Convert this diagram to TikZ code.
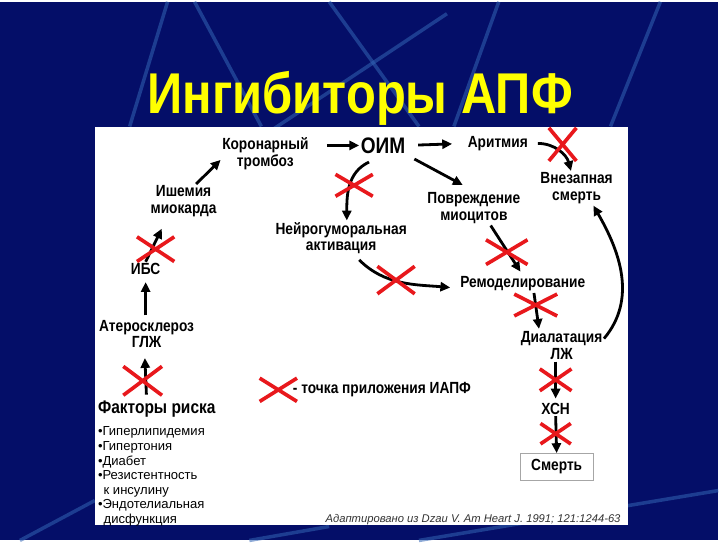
\documentclass[tikz,border=0pt]{standalone}
\usepackage{fontspec}
\setmainfont{Liberation Sans}
\newfontfamily\condfont[FakeStretch=0.85]{Liberation Sans}
\usepackage{xcolor}
\usepackage{tikz}
\usetikzlibrary{arrows.meta,shapes.misc,positioning}

\definecolor{slidebg}{RGB}{4,14,104}
\definecolor{streak}{RGB}{50,100,180}
\definecolor{xred}{RGB}{232,24,28}
\definecolor{titleyellow}{RGB}{255,255,0}

\tikzset{
  lbl/.style={font=\condfont\bfseries\fontsize{11.5}{12}\selectfont, align=center, inner sep=1pt},
  arr/.style={-{Triangle[length=7pt,width=6.5pt]}, line width=2pt},
  iapf/.style={cross out, draw=xred, line width=2.6pt, inner sep=0pt,
    minimum width=24pt, minimum height=14pt},
}

\begin{document}
\begin{tikzpicture}[x=0.025cm, y=-0.025cm]
		  % slide background
		  \path[fill=slidebg] (0,0) rectangle (720,540);
		  \begin{scope}[streak, line width=2.5pt, opacity=0.55]
		    \draw (195,0) -- (262,125);
		    \draw (330,0) -- (420,125);
		    \draw (448,12) -- (150,210);
		    \draw (500,0) -- (455,125);
		    \draw (662,0) -- (612,125);
		    \draw (168,0) -- (130,125);
		    \draw (20,540) -- (95,500);
		    \draw (250,540) -- (330,526);
		    \draw (420,540) -- (720,490);
		  \end{scope}
		  \node[font=\condfont\bfseries\fontsize{41}{43}\selectfont, text=titleyellow] (title) at (361,97) {Ингибиторы АПФ} ; %
		  \path[fill=white] (95,126) rectangle (630,525);
		
		  % chain nodes
		  \node[lbl] (koron) at (266,152) {Коронарный\\тромбоз} ; %
		  \node[lbl, font=\condfont\bfseries\fontsize{16}{17}\selectfont] (oim) at (384,144) {ОИМ} ; %
		  \node[lbl] (arit) at (499,142) {Аритмия} ; %
		  \node[lbl] (vnez) at (578,187) {Внезапная\\смерть} ; %
		  \node[lbl] (isch) at (184,200) {Ишемия\\миокарда} ; %
		  \node[lbl] (povr) at (475,207) {Повреждение\\миоцитов} ; %
		  \node[lbl] (neuro) at (342,237) {Нейрогуморальная\\активация} ; %
		  \node[lbl] (ibs) at (146,268) {ИБС} ; %
		  \node[lbl] (remod) at (524,283) {Ремоделирование} ; %
		  \node[lbl] (ater) at (147,333) {Атеросклероз\\ГЛЖ} ; %
		  \node[lbl] (dial) at (563,345) {Диалатация\\ЛЖ} ; %
		  \node[lbl] (xsn) at (557,408) {ХСН} ; %
		  \node[lbl, draw=black!35, minimum width=52pt, minimum height=19pt] (smert) at (558,466) {Смерть} ; %
		  \node[lbl, font=\condfont\bfseries\fontsize{13}{14}\selectfont, anchor=west, inner sep=0pt] (fakt) at (98,408) {Факторы риска} ; %
		  \node[font=\fontsize{9.3}{10.4}\selectfont, align=left, anchor=north west, inner sep=0pt] (risks) at (98,426)
		    {•Гиперлипидемия\\•Гипертония\\•Диабет\\•Резистентность\\\hspace*{4pt}к инсулину\\•Эндотелиальная\\\hspace*{4pt}дисфункция} ; %
		  \node[iapf] (xleg) at (279,389) {} ; %
		  \node[lbl, anchor=west] (legend) at (292,389) {- точка приложения ИАПФ} ; %
		  \node[font=\itshape\fontsize{8}{9}\selectfont, anchor=east, text=black!80] (cite) at (627,519)
		    {Адаптировано из Dzau V. Am Heart J. 1991; 121:1244-63} ; %
		
		  % connectors
		  \draw[arr, shorten <=12pt] (koron.east |- oim.west) -- (oim.west);
		  \draw[arr, shorten <=8pt, shorten >=10pt] (oim.east) -- (arit.west);
		  \draw[arr, shorten <=6pt, shorten >=9pt] (oim.south east) -- (povr.north);
		  \draw[arr] ([xshift=9pt]isch.north) -- ([yshift=8pt]koron.south west);
		  \draw[arr, shorten >=8pt] (ibs.north) -- ([xshift=-12pt]isch.south);
		  \draw[arr, shorten <=2pt, shorten >=4pt] (ibs.south |- ater.north) -- (ibs.south);
		  \draw[arr, shorten <=4pt, shorten >=6pt] (ater.south |- fakt.north) -- ([xshift=-1.5pt]ater.south);
		  \draw[arr] ([xshift=6pt]arit.east) to[out=0,in=105] ([xshift=-4pt]vnez.north);
		  \draw[arr] ([xshift=-10pt,yshift=-5pt]oim.south) to[out=205,in=90] ([xshift=4pt]neuro.north);
		  \draw[arr, shorten <=4pt, shorten >=6pt] ([xshift=10pt]neuro.south) to[out=-45,in=175] ([yshift=-3pt]remod.west);
		  \draw[arr, shorten >=3pt] ([xshift=12pt]povr.south) -- (remod.north);
		  \draw[arr, shorten >=1pt] ([xshift=8pt]remod.south) -- ([xshift=-16pt]dial.north);
		  \draw[arr] ([yshift=-6pt]dial.north east) to[out=50,in=-60] ([xshift=-15pt]vnez.south east);
		  \draw[arr, shorten >=2pt] (xsn.north |- dial.south) -- (xsn.north);
		  \draw[arr] (xsn.south) -- (smert.north);
		
		  % blocking marks
		  \node[iapf, minimum width=17pt, minimum height=21pt] (xarit) at (564,143) {} ; %
		  \node[iapf, minimum height=13pt] (xneuro) at (355,184) {} ; %
		  \node[iapf, minimum height=15pt] (xibs) at (156,248) {} ; %
		  \node[iapf, minimum width=25pt, minimum height=18pt] (xfakt) at (143,380) {} ; %
		  \node[iapf, minimum height=17pt] (xremod) at (397,279) {} ; %
		  \node[iapf, minimum width=27pt, minimum height=15pt] (xpovr) at (508,251) {} ; %
		  \node[iapf, minimum width=28pt, minimum height=13pt] (xdial) at (537,304) {} ; %
		  \node[iapf, minimum width=20pt, minimum height=13pt] (xxsn) at (557,379) {} ; %
		  \node[iapf, minimum width=19pt, minimum height=12pt] (xsmert) at (557,433) {} ; %
		\end{tikzpicture}
\end{document}
